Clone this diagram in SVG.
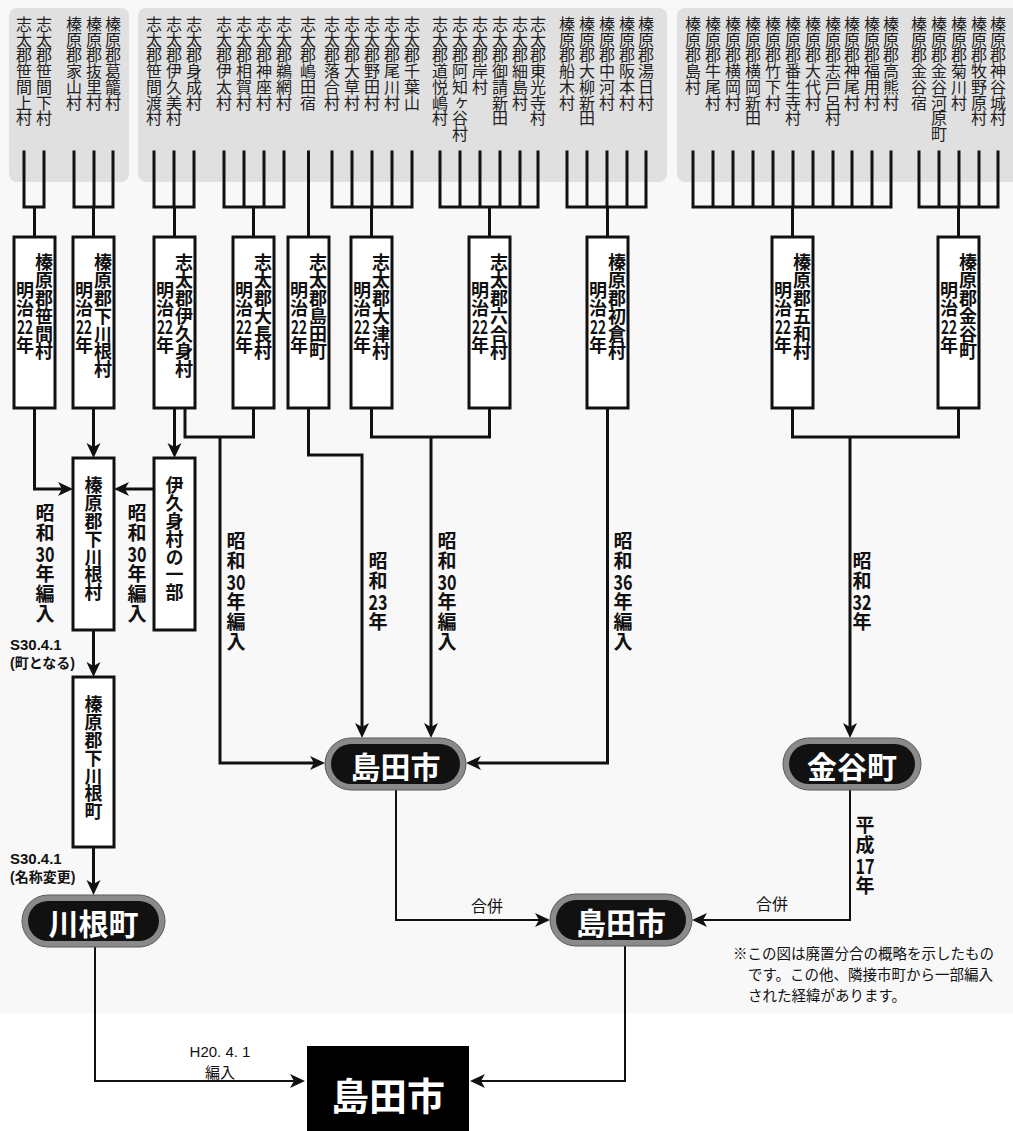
<svg xmlns="http://www.w3.org/2000/svg" width="1013" height="1131" viewBox="0 0 1013 1131">
<style>
.bg{fill:#f8f8f8}
.panel{fill:#e0e0e0}
.vn{font-family:"Noto Sans CJK JP",sans-serif;font-size:16px;writing-mode:vertical-rl;fill:#1e1e1e;letter-spacing:-0.3px}
.vb{font-family:"Noto Sans CJK JP",sans-serif;font-size:18px;font-weight:bold;writing-mode:vertical-rl;fill:#111;letter-spacing:-0.2px}
.vl{font-family:"Noto Sans CJK JP",sans-serif;font-size:19px;font-weight:bold;writing-mode:vertical-rl;fill:#111;letter-spacing:1px}
.dg{font-family:"Noto Sans CJK JP",sans-serif;font-weight:bold;fill:#111;text-anchor:middle}
.d19{font-size:19px}
.d21{font-size:21px}
.box{fill:#fff;stroke:#111;stroke-width:3}
.ln{fill:none;stroke:#111;stroke-width:3;stroke-linejoin:miter}
.ln2{fill:none;stroke:#111;stroke-width:2}
.comb{fill:none;stroke:#111;stroke-width:3;stroke-linecap:square}
.pillo{fill:#8a8a8a;stroke:#5a5a5a;stroke-width:1}
.pilli{fill:#111}
.pt{font-family:"Noto Sans CJK JP",sans-serif;font-weight:bold;font-size:30px;fill:#fff;text-anchor:middle}
.sm{font-family:"Liberation Sans","Noto Sans CJK JP",sans-serif;font-weight:bold;fill:#111}
.nt{font-family:"Noto Sans CJK JP",sans-serif;font-size:15px;fill:#111}
.note{font-family:"Noto Sans CJK JP",sans-serif;font-size:14.5px;fill:#111}
.lat{font-family:"Liberation Sans",sans-serif;font-size:15px;fill:#111;text-anchor:middle}
</style>
<defs>
<marker id="ah" markerUnits="userSpaceOnUse" markerWidth="16" markerHeight="16" refX="9" refY="7" orient="auto">
<path d="M0,0 L15,7 L0,14 L4,7 z" fill="#111"/>
</marker>
</defs>
<rect class="bg" x="0" y="0" width="1013" height="1013"/>
<rect x="0" y="1013" width="1013" height="118" fill="#fff"/>

<g id="panels">
<rect class="panel" x="9" y="8" width="120" height="174" rx="8"/>
<rect class="panel" x="138" y="8" width="529" height="174" rx="8"/>
<rect class="panel" x="677" y="8" width="350" height="174" rx="8"/>
</g>

<g id="villages">
<text class="vn" x="24" y="16">志太郡笹間上村</text>
<text class="vn" x="44" y="16">志太郡笹間下村</text>
<text class="vn" x="74" y="16">榛原郡家山村</text>
<text class="vn" x="94" y="16">榛原郡抜里村</text>
<text class="vn" x="113" y="16">榛原郡葛籠村</text>
<text class="vn" x="154" y="16">志太郡笹間渡村</text>
<text class="vn" x="174" y="16">志太郡伊久美村</text>
<text class="vn" x="194" y="16">志太郡身成村</text>
<text class="vn" x="224" y="16">志太郡伊太村</text>
<text class="vn" x="244" y="16">志太郡相賀村</text>
<text class="vn" x="264" y="16">志太郡神座村</text>
<text class="vn" x="284" y="16">志太郡鵜網村</text>
<text class="vn" x="308" y="16">志太郡嶋田宿</text>
<text class="vn" x="332" y="16">志太郡落合村</text>
<text class="vn" x="352" y="16">志太郡大草村</text>
<text class="vn" x="372" y="16">志太郡野田村</text>
<text class="vn" x="392" y="16">志太郡尾川村</text>
<text class="vn" x="412" y="16">志太郡千葉山</text>
<text class="vn" x="440" y="16">志太郡道悦嶋村</text>
<text class="vn" x="460" y="16">志太郡阿知ヶ谷村</text>
<text class="vn" x="480" y="16">志太郡岸村</text>
<text class="vn" x="500" y="16">志太郡御請新田</text>
<text class="vn" x="520" y="16">志太郡細島村</text>
<text class="vn" x="538" y="16">志太郡東光寺村</text>
<text class="vn" x="567" y="16">榛原郡船木村</text>
<text class="vn" x="587" y="16">榛原郡大柳新田</text>
<text class="vn" x="607" y="16">榛原郡中河村</text>
<text class="vn" x="627" y="16">榛原郡阪本村</text>
<text class="vn" x="646" y="16">榛原郡湯日村</text>
<text class="vn" x="693" y="16">榛原郡島村</text>
<text class="vn" x="713" y="16">榛原郡牛尾村</text>
<text class="vn" x="733" y="16">榛原郡横岡村</text>
<text class="vn" x="753" y="16">榛原郡横岡新田</text>
<text class="vn" x="773" y="16">榛原郡竹下村</text>
<text class="vn" x="793" y="16">榛原郡番生寺村</text>
<text class="vn" x="813" y="16">榛原郡大代村</text>
<text class="vn" x="833" y="16">榛原郡志戸呂村</text>
<text class="vn" x="852" y="16">榛原郡神尾村</text>
<text class="vn" x="872" y="16">榛原郡福用村</text>
<text class="vn" x="891" y="16">榛原郡高熊村</text>
<text class="vn" x="919" y="16">榛原郡金谷宿</text>
<text class="vn" x="939" y="16">榛原郡金谷河原町</text>
<text class="vn" x="959" y="16">榛原郡菊川村</text>
<text class="vn" x="979" y="16">榛原郡牧野原村</text>
<text class="vn" x="998" y="16">榛原郡神谷城村</text>
</g>

<g id="connectors">
<path class="comb" d="M24,152V207M44,152V207M24,207H44M34.5,207V237"/>
<path class="comb" d="M74,152V207M94,152V207M113,152V207M74,207H113M93.5,207V237"/>
<path class="comb" d="M154,152V207M174,152V207M194,152V207M154,207H194M174.5,207V237"/>
<path class="comb" d="M224,152V207M244,152V207M264,152V207M284,152V207M224,207H284M253.5,207V237"/>
<path class="comb" d="M308.5,152V237"/>
<path class="comb" d="M332,152V207M352,152V207M372,152V207M392,152V207M412,152V207M332,207H412M371.5,207V237"/>
<path class="comb" d="M440,152V207M460,152V207M480,152V207M500,152V207M520,152V207M538,152V207M440,207H538M489.5,207V237"/>
<path class="comb" d="M567,152V207M587,152V207M607,152V207M627,152V207M646,152V207M567,207H646M607.5,207V237"/>
<path class="comb" d="M693,152V207M713,152V207M733,152V207M753,152V207M773,152V207M793,152V207M813,152V207M833,152V207M852,152V207M872,152V207M891,152V207M693,207H891M792.5,207V237"/>
<path class="comb" d="M919,152V207M939,152V207M959,152V207M979,152V207M998,152V207M919,207H998M958.5,207V237"/>

<path class="ln" d="M34.5,408V489H67" marker-end="url(#ah)"/>
<path class="ln" d="M93.5,408V452" marker-end="url(#ah)"/>
<path class="ln" d="M174.5,408V452" marker-end="url(#ah)"/>
<path class="ln" d="M185,408V437H253.5V408"/>
<path class="ln" d="M220,437V763H319" marker-end="url(#ah)"/>
<path class="ln" d="M154,489H120" marker-end="url(#ah)"/>
<path class="ln" d="M308.5,408V455H362V732" marker-end="url(#ah)"/>
<path class="ln" d="M371.5,408V437H489.5V408"/>
<path class="ln" d="M431,437V732" marker-end="url(#ah)"/>
<path class="ln" d="M607.5,408V763H472" marker-end="url(#ah)"/>
<path class="ln" d="M792.5,408V437H958.5V408"/>
<path class="ln" d="M850,437V732" marker-end="url(#ah)"/>
<path class="ln" d="M93.5,630V671" marker-end="url(#ah)"/>
<path class="ln" d="M93.5,847V889" marker-end="url(#ah)"/>
<path class="ln2" d="M396,790V920H544" marker-end="url(#ah)"/>
<path class="ln2" d="M850,790V920H698" marker-end="url(#ah)"/>
<path class="ln2" d="M625,946V1081H476" marker-end="url(#ah)"/>
<path class="ln2" d="M95,947V1081H299" marker-end="url(#ah)"/>
</g>

<g id="box-sasama">
<rect class="box" x="14" y="237" width="41" height="171"/>
<text class="vb" x="44" y="253.5">榛原郡笹間村</text>
<text class="vb" x="25" y="281.5">明治</text>
<text class="dg d19" x="25" y="333.8" textLength="16" lengthAdjust="spacingAndGlyphs">22</text>
<text class="vb" x="25" y="336.2">年</text>
</g>
<g id="box-shimokawane">
<rect class="box" x="73" y="237" width="41" height="171"/>
<text class="vb" x="103" y="253.5">榛原郡下川根村</text>
<text class="vb" x="84" y="281.5">明治</text>
<text class="dg d19" x="84" y="333.8" textLength="16" lengthAdjust="spacingAndGlyphs">22</text>
<text class="vb" x="84" y="336.2">年</text>
</g>
<g id="box-ikumi">
<rect class="box" x="154" y="237" width="41" height="171"/>
<text class="vb" x="184" y="253.5">志太郡伊久身村</text>
<text class="vb" x="165" y="281.5">明治</text>
<text class="dg d19" x="165" y="333.8" textLength="16" lengthAdjust="spacingAndGlyphs">22</text>
<text class="vb" x="165" y="336.2">年</text>
</g>
<g id="box-ochou">
<rect class="box" x="233" y="237" width="41" height="171"/>
<text class="vb" x="263" y="253.5">志太郡大長村</text>
<text class="vb" x="244" y="281.5">明治</text>
<text class="dg d19" x="244" y="333.8" textLength="16" lengthAdjust="spacingAndGlyphs">22</text>
<text class="vb" x="244" y="336.2">年</text>
</g>
<g id="box-shimadamachi">
<rect class="box" x="288" y="237" width="41" height="171"/>
<text class="vb" x="318" y="253.5">志太郡島田町</text>
<text class="vb" x="299" y="281.5">明治</text>
<text class="dg d19" x="299" y="333.8" textLength="16" lengthAdjust="spacingAndGlyphs">22</text>
<text class="vb" x="299" y="336.2">年</text>
</g>
<g id="box-ootsu">
<rect class="box" x="351" y="237" width="41" height="171"/>
<text class="vb" x="381" y="253.5">志太郡大津村</text>
<text class="vb" x="362" y="281.5">明治</text>
<text class="dg d19" x="362" y="333.8" textLength="16" lengthAdjust="spacingAndGlyphs">22</text>
<text class="vb" x="362" y="336.2">年</text>
</g>
<g id="box-rokugou">
<rect class="box" x="469" y="237" width="41" height="171"/>
<text class="vb" x="499" y="253.5">志太郡六合村</text>
<text class="vb" x="480" y="281.5">明治</text>
<text class="dg d19" x="480" y="333.8" textLength="16" lengthAdjust="spacingAndGlyphs">22</text>
<text class="vb" x="480" y="336.2">年</text>
</g>
<g id="box-hatsukura">
<rect class="box" x="587" y="237" width="41" height="171"/>
<text class="vb" x="617" y="253.5">榛原郡初倉村</text>
<text class="vb" x="598" y="281.5">明治</text>
<text class="dg d19" x="598" y="333.8" textLength="16" lengthAdjust="spacingAndGlyphs">22</text>
<text class="vb" x="598" y="336.2">年</text>
</g>
<g id="box-gowa">
<rect class="box" x="772" y="237" width="41" height="171"/>
<text class="vb" x="802" y="253.5">榛原郡五和村</text>
<text class="vb" x="783" y="281.5">明治</text>
<text class="dg d19" x="783" y="333.8" textLength="16" lengthAdjust="spacingAndGlyphs">22</text>
<text class="vb" x="783" y="336.2">年</text>
</g>
<g id="box-kanayacho">
<rect class="box" x="938" y="237" width="41" height="171"/>
<text class="vb" x="968" y="253.5">榛原郡金谷町</text>
<text class="vb" x="949" y="281.5">明治</text>
<text class="dg d19" x="949" y="333.8" textLength="16" lengthAdjust="spacingAndGlyphs">22</text>
<text class="vb" x="949" y="336.2">年</text>
</g>

<g id="box-shimokawane-s30">
<rect class="box" x="73" y="458" width="41" height="172"/>
<text class="vb" x="93.5" y="476.5">榛原郡下川根村</text>
</g>
<g id="box-ikumi-part">
<rect class="box" x="154" y="458" width="41" height="172"/>
<text class="vb" x="174.5" y="476.5">伊久身村の一部</text>
</g>
<g id="box-shimokawane-cho">
<rect class="box" x="73" y="677" width="41" height="170"/>
<text class="vb" x="93.5" y="695.5">榛原郡下川根町</text>
</g>

<g id="labels">
<g id="lbl-s30a">
<text class="vl" x="45" y="503">昭和</text>
<text class="dg d21" x="45" y="561.5" textLength="19" lengthAdjust="spacingAndGlyphs">30</text>
<text class="vl" x="45" y="564">年編入</text>
</g>
<g id="lbl-s30b">
<text class="vl" x="137" y="503">昭和</text>
<text class="dg d21" x="137" y="561.5" textLength="19" lengthAdjust="spacingAndGlyphs">30</text>
<text class="vl" x="137" y="564">年編入</text>
</g>
<g id="lbl-s30c">
<text class="vl" x="236" y="531">昭和</text>
<text class="dg d21" x="236" y="589.5" textLength="19" lengthAdjust="spacingAndGlyphs">30</text>
<text class="vl" x="236" y="592">年編入</text>
</g>
<g id="lbl-s23">
<text class="vl" x="378" y="551">昭和</text>
<text class="dg d21" x="378" y="609.5" textLength="19" lengthAdjust="spacingAndGlyphs">23</text>
<text class="vl" x="378" y="612">年</text>
</g>
<g id="lbl-s30d">
<text class="vl" x="447" y="531">昭和</text>
<text class="dg d21" x="447" y="589.5" textLength="19" lengthAdjust="spacingAndGlyphs">30</text>
<text class="vl" x="447" y="592">年編入</text>
</g>
<g id="lbl-s36">
<text class="vl" x="623" y="531">昭和</text>
<text class="dg d21" x="623" y="589.5" textLength="19" lengthAdjust="spacingAndGlyphs">36</text>
<text class="vl" x="623" y="592">年編入</text>
</g>
<g id="lbl-s32">
<text class="vl" x="862" y="551">昭和</text>
<text class="dg d21" x="862" y="609.5" textLength="19" lengthAdjust="spacingAndGlyphs">32</text>
<text class="vl" x="862" y="612">年</text>
</g>
<g id="lbl-h17">
<text class="vl" x="865" y="815">平成</text>
<text class="dg d21" x="865" y="873.5" textLength="19" lengthAdjust="spacingAndGlyphs">17</text>
<text class="vl" x="865" y="876">年</text>
</g>
<text class="sm" x="10" y="650" font-size="15">S30.4.1</text>
<text class="sm" x="10" y="668" font-size="14">(町となる)</text>
<text class="sm" x="10" y="864" font-size="15">S30.4.1</text>
<text class="sm" x="10" y="882" font-size="14">(名称変更)</text>
<text class="nt" x="487" y="912" text-anchor="middle" style="font-size:16px">合併</text>
<text class="nt" x="772" y="910" text-anchor="middle" style="font-size:16px">合併</text>
<text class="lat" x="220" y="1057">H20. 4. 1</text>
<text class="nt" x="220" y="1078" text-anchor="middle">編入</text>
<text class="note" x="733" y="959">※この図は廃置分合の概略を示したもの</text>
<text class="note" x="748" y="980">です。この他、隣接市町から一部編入</text>
<text class="note" x="748" y="1001">された経緯があります。</text>
</g>

<g id="pill-shimada1">
<rect class="pillo" x="325" y="738" width="141" height="52" rx="26"/>
<rect class="pilli" x="331" y="744" width="129" height="40" rx="20"/>
<text class="pt" x="395.5" y="778">島田市</text>
</g>
<g id="pill-kanaya">
<rect class="pillo" x="783" y="738" width="138" height="52" rx="26"/>
<rect class="pilli" x="789" y="744" width="126" height="40" rx="20"/>
<text class="pt" x="852" y="778">金谷町</text>
</g>
<g id="pill-kawane">
<rect class="pillo" x="22" y="895" width="143" height="52" rx="26"/>
<rect class="pilli" x="28" y="901" width="131" height="40" rx="20"/>
<text class="pt" x="93.5" y="935">川根町</text>
</g>
<g id="pill-shimada2">
<rect class="pillo" x="550" y="894" width="142" height="52" rx="26"/>
<rect class="pilli" x="556" y="900" width="130" height="40" rx="20"/>
<text class="pt" x="621" y="934">島田市</text>
</g>
<g id="final-shimada">
<rect x="307" y="1046" width="162" height="90" fill="#000"/>
<text class="pt" x="388" y="1110" style="font-size:38px">島田市</text>
</g>
</svg>
